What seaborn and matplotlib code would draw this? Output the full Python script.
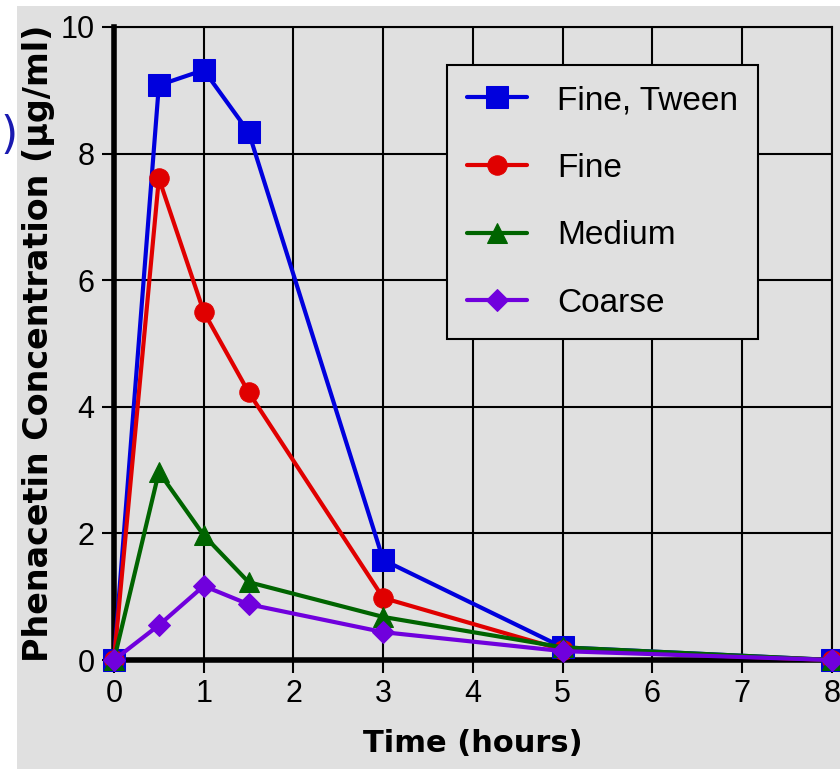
import matplotlib
matplotlib.use("Agg")
import matplotlib.pyplot as plt
import seaborn as sns
import pandas as pd
import numpy as np

time_h = [0, 0.5, 1, 1.5, 3, 5, 8]
fine_tween = [0.0, 9.08, 9.32, 8.34, 1.58, 0.20, 0.0]
fine = [0.0, 7.61, 5.50, 4.23, 0.98, 0.16, 0.0]
medium = [0.0, 2.97, 1.97, 1.23, 0.68, 0.20, 0.0]
coarse = [0.0, 0.55, 1.17, 0.88, 0.44, 0.14, 0.0]
labels = ["Fine, Tween", "Fine", "Medium", "Coarse"]
x_ticks = [0, 1, 2, 3, 4, 5, 6, 7, 8]
y_ticks = [0, 2, 4, 6, 8, 10]

sns.set_style("white")
plt.rcParams["font.family"] = ["Liberation Sans", "DejaVu Sans"]
plt.rcParams["text.color"] = "black"
plt.rcParams["axes.labelcolor"] = "black"
plt.rcParams["xtick.color"] = "black"
plt.rcParams["ytick.color"] = "black"

BG = "#e0e0e0"
fig = plt.figure(figsize=(8.4, 7.69), dpi=100)
fig.patch.set_facecolor("white")
fig.patches.append(plt.Rectangle((17 / 840, 0), 1 - 17 / 840, 1 - 6 / 769,
                                 transform=fig.transFigure, facecolor=BG,
                                 edgecolor="none", zorder=-10))
ax = fig.add_axes([114 / 840, 1 - 660 / 769, 718 / 840, 633 / 769])
ax.set_facecolor(BG)

colors = ["#0000dd", "#e00000", "#006400", "#7000dd"]
markers = ["s", "o", "^", "D"]
msizes = [16, 14, 14, 11]
df = pd.DataFrame({"Time": time_h * 4,
                   "Conc": fine_tween + fine + medium + coarse,
                   "Formulation": np.repeat(labels, len(time_h))})
for lab, c, m, ms in zip(labels, colors, markers, msizes):
    sub = df[df["Formulation"] == lab]
    sns.lineplot(data=sub, x="Time", y="Conc", ax=ax, color=c, marker=m,
                 markersize=ms, markeredgecolor=c, linewidth=3, label=lab,
                 zorder=3, clip_on=False)

ax.set_xlim(0, 8)
ax.set_ylim(0, 10)
ax.set_xticks(x_ticks)
ax.set_yticks(y_ticks)
ax.grid(True, color="black", linewidth=1.5)
ax.set_axisbelow(True)
for s in ["top", "right"]:
    ax.spines[s].set_color("black")
    ax.spines[s].set_linewidth(1.5)
for s in ["left", "bottom"]:
    ax.spines[s].set_color("black")
    ax.spines[s].set_linewidth(4)
    ax.spines[s].set_zorder(2.5)
ax.tick_params(axis="both", direction="out", length=9, width=1.5,
               color="black", labelcolor="black", labelsize=22, pad=5,
               left=True, bottom=True)

ax.set_xlabel("Time (hours)", fontsize=22, fontweight="bold",
              family=["DejaVu Sans"], labelpad=14)
ax.set_ylabel("Phenacetin Concentration (µg/ml)", fontsize=24,
              fontweight="bold", family=["DejaVu Sans"], labelpad=4)

leg = ax.legend(loc="upper left", bbox_to_anchor=((447 - 114) / 718, (660 - 65) / 633),
                borderaxespad=0, frameon=True, fancybox=False, fontsize=24,
                handlelength=1.8, labelspacing=1.1, borderpad=0.6,
                handletextpad=0.9, facecolor=BG, edgecolor="black", framealpha=1)
leg.get_frame().set_linewidth(1.5)
leg.set_zorder(5)
for t in leg.get_texts():
    t.set_color("black")

fig.text(0.5 / 840, 1 - 136 / 769, ")", color="#1a1ab0", fontsize=32,
         va="center", ha="left", family=["DejaVu Sans"])

fig.savefig("out.png", dpi=100, facecolor="white")
